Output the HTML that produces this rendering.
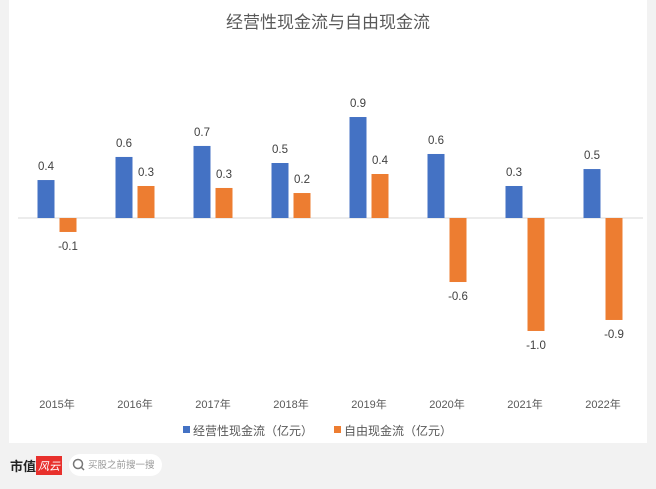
<!DOCTYPE html>
<html><head><meta charset="utf-8"><style>
body{margin:0;width:656px;height:489px;background:#f2f2f2;overflow:hidden;font-family:"Liberation Sans","Noto Sans CJK SC",sans-serif;}
#wrap{position:relative;width:656px;height:489px;}
#panel{position:absolute;left:9px;top:0;width:638px;height:443px;background:#fff;}
</style></head><body>
<div id="wrap">
<div id="panel"></div>
<svg id="chart" width="656" height="489" style="position:absolute;left:0;top:0">
<text x="328" y="28" text-anchor="middle" font-size="17" fill="#595959" font-family="Liberation Sans, Noto Sans CJK SC, sans-serif">经营性现金流与自由现金流</text>
<line x1="18" x2="643" y1="218" y2="218" stroke="#d9d9d9" stroke-width="1"/>
<g id="bars"></g>
<g>
<rect x="183" y="426" width="7" height="7" fill="#4472c4"/>
<text x="193" y="435" font-size="12" fill="#595959">经营性现金流（亿元）</text>
<rect x="334" y="426" width="7" height="7" fill="#ed7d31"/>
<text x="344" y="435" font-size="12" fill="#595959">自由现金流（亿元）</text>
</g>
<g>
<text x="10" y="471" font-size="13" font-weight="bold" fill="#222">市值</text>
<rect x="36" y="456" width="26" height="19" fill="#e8302c"/>
<text x="38" y="470" font-size="11" fill="#fff" font-style="italic">风云</text>
<rect x="69" y="454" width="93" height="22" rx="11" fill="#fff"/>
<circle cx="78" cy="464" r="4.5" fill="none" stroke="#777" stroke-width="1.5"/>
<line x1="81" y1="467" x2="84" y2="470" stroke="#777" stroke-width="1.5"/>
<text x="88" y="468" font-size="9.5" fill="#999">买股之前搜一搜</text>
</g>
</svg>
<script>
const categories=["2015年","2016年","2017年","2018年","2019年","2020年","2021年","2022年"];
const operatingValues=[0.345,0.555,0.655,0.5,0.918,0.582,0.291,0.445];
const freeValues=[-0.127,0.291,0.273,0.227,0.4,-0.582,-1.027,-0.927];
const operatingLabels=["0.4","0.6","0.7","0.5","0.9","0.6","0.3","0.5"];
const freeLabels=["-0.1","0.3","0.3","0.2","0.4","-0.6","-1.0","-0.9"];
const NS="http://www.w3.org/2000/svg";
const zeroY=218, scale=110, x0=18, step=78, barW=17;
function yOf(v){return zeroY-v*scale;}
function xCenter(i){return x0+step*i+step/2;}
const g=document.getElementById('bars');
function mk(tag,attrs){const e=document.createElementNS(NS,tag);for(const k in attrs)e.setAttribute(k,attrs[k]);g.appendChild(e);return e;}
categories.forEach((c,i)=>{
  const cx=xCenter(i);
  [[operatingValues,operatingLabels,"#4472c4",cx-19.5,"operating"],[freeValues,freeLabels,"#ed7d31",cx+2.5,"free"]].forEach(([vals,labs,col,x,nm])=>{
    const v=vals[i], y=yOf(v);
    const r=mk('rect',{x:x,y:Math.min(y,zeroY),width:barW,height:Math.abs(zeroY-y),fill:col});
    
    
    const t=mk('text',{x:x+barW/2,y:v>=0?y-10:y+18,'text-anchor':'middle','font-size':'11.5',fill:'#404040'});
    t.textContent=labs[i];
    
    
  });
  const xl=mk('text',{x:cx,y:408,'text-anchor':'middle','font-size':'11',fill:'#595959'});
  xl.textContent=c;
  
  
});
</script>
</div>
</body></html>
